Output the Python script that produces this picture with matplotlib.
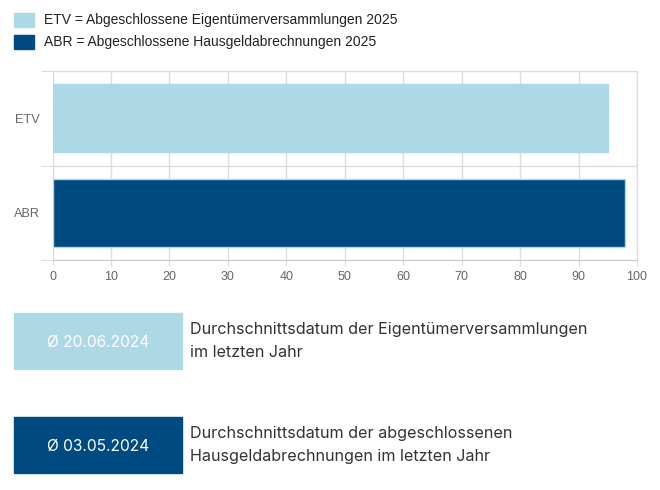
import matplotlib.pyplot as plt
from matplotlib.patches import Rectangle

# ---------- DATA ----------
categories = ["ETV", "ABR"]
values = [95, 98]
legend_labels = [
    "ETV = Abgeschlossene Eigentümerversammlungen 2025",
    "ABR = Abgeschlossene Hausgeldabrechnungen 2025",
]
avg_dates = ["Ø 20.06.2024", "Ø 03.05.2024"]
avg_texts = [
    "Durchschnittsdatum der Eigentümerversammlungen\nim letzten Jahr",
    "Durchschnittsdatum der abgeschlossenen\nHausgeldabrechnungen im letzten Jahr",
]
x_ticks = list(range(0, 101, 10))

LIGHT = "#add8e6"
DARK = "#004a82"
colors = [LIGHT, DARK]
GRID = "#dddddd"

W, H = 660, 490
fig = plt.figure(figsize=(W / 100, H / 100), dpi=100)


def fx(px):
    return px / W


def fy(py):
    return 1 - py / H


# ---------- LEGEND ----------
for i, lab in enumerate(legend_labels):
    top = 13 + i * 22
    fig.patches.append(Rectangle((fx(14), fy(top + 14)), fx(20), 14 / H,
                                 transform=fig.transFigure, color=colors[i]))
    fig.text(fx(44), fy(top + 7), lab, fontsize=10, family="Liberation Sans",
             color="#222222", va="center", ha="left")

# ---------- BAR CHART ----------
ax = fig.add_axes([fx(52.5), fy(260), (637 - 52.5) / W, 189 / H])
ypos = [1, 0]
ax.barh(ypos, values, height=0.72, color=colors, edgecolor=LIGHT, linewidth=1, zorder=3)
ax.set_xlim(0, 100)
ax.set_ylim(-0.5, 1.5)
ax.set_xticks(x_ticks)
ax.set_xticklabels([str(t) for t in x_ticks], fontsize=9, color="#666666",
                   family="Liberation Sans")
ax.set_yticks([-0.5, 0.5, 1.5])
ax.set_yticklabels([])
ax.set_yticks(ypos, minor=True)
ax.set_yticklabels(categories, minor=True, fontsize=9.2, color="#666666",
                   family="Liberation Sans")
ax.tick_params(axis="y", which="major", length=9, color=GRID)
ax.tick_params(axis="y", which="minor", length=0, pad=9)
ax.tick_params(axis="x", length=4, color=GRID, pad=4)
ax.grid(True, which="major", color=GRID, linewidth=1, zorder=0)
for side in ["top", "right"]:
    ax.spines[side].set_color(GRID)
ax.spines["left"].set_color(GRID)
ax.spines["bottom"].set_color("#cccccc")

# ---------- AVERAGE DATE BOXES ----------
for i in range(2):
    top = 313 + i * 104
    fig.patches.append(Rectangle((fx(14), fy(top + 56)), fx(168), 56 / H,
                                 transform=fig.transFigure, color=colors[i]))
    fig.text(fx(98), fy(top + 29), avg_dates[i], fontsize=11.2, family="Inter",
             color="white", ha="center", va="center")
    fig.text(fx(190), fy(top + 28), avg_texts[i], fontsize=11.6, family="Inter",
             color="#333333", ha="left", va="center", linespacing=1.67)

fig.savefig("out.png", dpi=100, facecolor="white")
